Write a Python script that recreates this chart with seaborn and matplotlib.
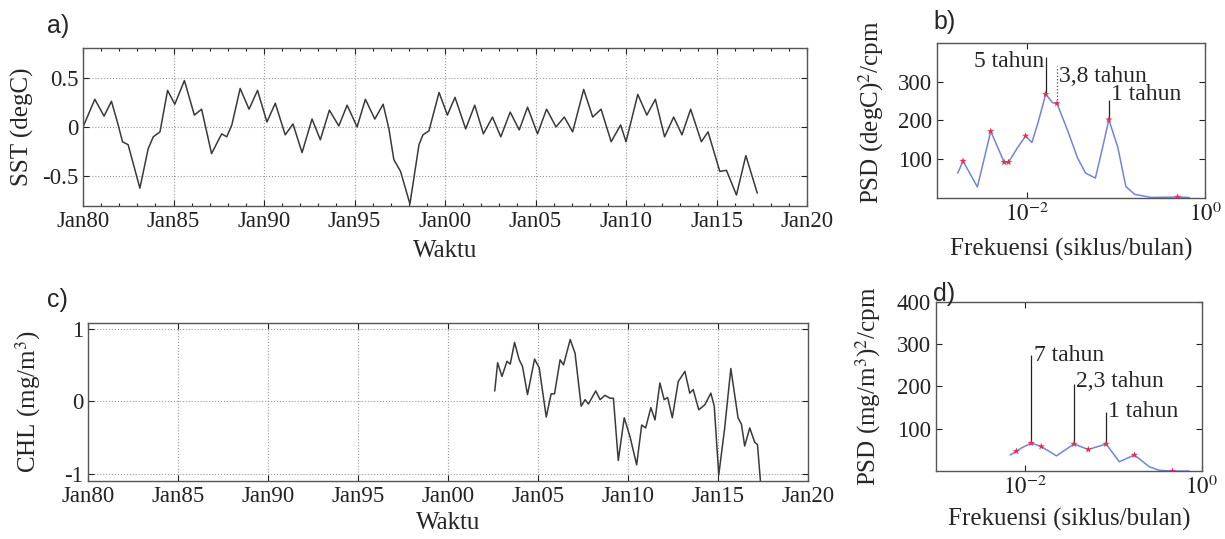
import numpy as np
import pandas as pd
import matplotlib
matplotlib.use("Agg")
import matplotlib.pyplot as plt
import seaborn as sns

# SST anomaly (panel a), decimal year vs degC, read at turning points
sst_year = [1980.0, 1980.65, 1981.16, 1981.57, 1981.94, 1982.18, 1982.49, 1983.14, 1983.6, 1983.88,
            1984.25, 1984.67, 1985.07, 1985.6, 1986.15, 1986.55, 1987.1, 1987.66, 1987.94, 1988.22,
            1988.68, 1989.17, 1989.64, 1990.16, 1990.62, 1991.17, 1991.6, 1992.1, 1992.65, 1993.11,
            1993.61, 1994.13, 1994.59, 1995.14, 1995.6, 1996.12, 1996.58, 1996.9, 1997.17, 1997.54,
            1998.06, 1998.56, 1998.78, 1999.11, 1999.67, 2000.13, 2000.55, 2001.14, 2001.64, 2002.12,
            2002.62, 2003.08, 2003.6, 2004.1, 2004.56, 2005.11, 2005.61, 2006.13, 2006.59, 2007.05,
            2007.66, 2008.16, 2008.62, 2009.18, 2009.7, 2010.0, 2010.65, 2011.15, 2011.62, 2012.13,
            2012.63, 2013.09, 2013.57, 2014.16, 2014.53, 2015.18, 2015.55, 2016.1, 2016.62, 2017.25]
sst = [0.0, 0.28, 0.11, 0.26, 0.02, -0.15, -0.18, -0.62, -0.22, -0.10,
       -0.05, 0.37, 0.23, 0.47, 0.12, 0.18, -0.27, -0.07, -0.10, 0.02,
       0.39, 0.18, 0.37, 0.05, 0.24, -0.08, 0.03, -0.26, 0.08, -0.13,
       0.17, 0.01, 0.22, 0.0, 0.28, 0.08, 0.23, -0.02, -0.33, -0.45,
       -0.78, -0.18, -0.08, -0.04, 0.35, 0.12, 0.30, -0.02, 0.22, -0.07,
       0.10, -0.10, 0.15, -0.03, 0.20, -0.07, 0.18, 0.0, 0.10, -0.05,
       0.38, 0.10, 0.18, -0.15, 0.02, -0.15, 0.33, 0.12, 0.28, -0.10,
       0.10, -0.08, 0.18, -0.15, -0.05, -0.45, -0.44, -0.69, -0.29, -0.67]

# CHL anomaly (panel c)
chl_year = [2002.59, 2002.75, 2002.99, 2003.27, 2003.45, 2003.69, 2003.95, 2004.13, 2004.41, 2004.8,
            2005.06, 2005.45, 2005.72, 2005.91, 2006.22, 2006.41, 2006.78, 2007.05, 2007.39, 2007.61,
            2007.79, 2008.2, 2008.44, 2008.71, 2008.99, 2009.18, 2009.45, 2009.78, 2010.1, 2010.47,
            2010.75, 2010.97, 2011.26, 2011.49, 2011.76, 2012.0, 2012.19, 2012.45, 2012.78, 2013.15,
            2013.42, 2013.61, 2013.92, 2014.26, 2014.59, 2014.78, 2015.03, 2015.36, 2015.7, 2016.1,
            2016.29, 2016.47, 2016.75, 2017.03, 2017.18, 2017.36]
chl = [0.14, 0.53, 0.34, 0.55, 0.51, 0.81, 0.57, 0.48, 0.09, 0.58,
       0.46, -0.22, 0.10, 0.10, 0.57, 0.50, 0.85, 0.66, -0.07, 0.02,
       -0.04, 0.14, 0.02, 0.08, 0.04, 0.04, -0.82, -0.23, -0.49, -0.88,
       -0.33, -0.37, -0.09, -0.26, 0.25, 0.02, 0.05, -0.23, 0.27, 0.41,
       0.11, 0.16, -0.12, -0.05, 0.11, -0.07, -1.02, -0.37, 0.45, -0.23,
       -0.32, -0.62, -0.37, -0.57, -0.60, -1.15]

# power spectra (panels b, d): frequency in cycles/month
sst_freq = [0.0017, 0.00195, 0.00282, 0.00398, 0.00562, 0.0063, 0.00794, 0.00977, 0.01148, 0.0135,
            0.0164, 0.0195, 0.0219, 0.0288, 0.0372, 0.0457, 0.0589, 0.0708, 0.0833, 0.105,
            0.129, 0.162, 0.245, 0.49, 0.66]
sst_psd = [64, 95, 28, 172, 92, 92, 130, 160, 143, 196,
           268, 246, 244, 174, 103, 64, 51, 130, 202, 130,
           29, 9, 1, 2, 1]
sst_peak_freq = [0.00195, 0.00398, 0.00562, 0.0063, 0.00977, 0.0164, 0.0219, 0.0833, 0.49]
sst_peak_psd = [95, 172, 92, 92, 160, 268, 244, 202, 2]

chl_freq = [0.0069, 0.0081, 0.0093, 0.0119, 0.0155, 0.0229, 0.0362, 0.0525, 0.0833, 0.1175,
            0.174, 0.257, 0.33, 0.468, 0.72]
chl_psd = [38, 47, 55, 66, 58, 36, 64, 51, 64, 22,
           38, 10, 2, 0, 0]
chl_peak_freq = [0.0081, 0.0119, 0.0155, 0.0362, 0.0525, 0.0833, 0.174, 0.468]
chl_peak_psd = [47, 66, 58, 64, 51, 64, 38, 0]

year_ticks = [1980, 1985, 1990, 1995, 2000, 2005, 2010, 2015, 2020]
year_labels = ["Jan80", "Jan85", "Jan90", "Jan95", "Jan00", "Jan05", "Jan10", "Jan15", "Jan20"]

sns.set_theme(style="white")
plt.rcParams["font.family"] = ["Liberation Serif", "DejaVu Serif"]
plt.rcParams["mathtext.fontset"] = "stix"
plt.rcParams["xtick.direction"] = "in"
plt.rcParams["ytick.direction"] = "in"

FS_TICK = 16.5
FS_LAB = 18
FS_NOTE = 17
LINE = "#3a3a3a"
SPEC = "#7383e0"

fig = plt.figure(figsize=(12.25, 5.39), dpi=100)
ax_a = fig.add_axes([0.0678, 0.618, 0.591, 0.293])
ax_b = fig.add_axes([0.765, 0.633, 0.219, 0.287])
ax_c = fig.add_axes([0.0718, 0.108, 0.588, 0.293])
ax_d = fig.add_axes([0.764, 0.126, 0.217, 0.314])


def style_box(ax):
    for s in ax.spines.values():
        s.set_color("#555555")
        s.set_linewidth(1.0)
    ax.tick_params(which="both", top=True, right=True, bottom=True, left=True,
                   labelsize=FS_TICK, colors="#222222", length=4, width=0.8)
    ax.tick_params(which="minor", length=2.5)


# panel a
df_a = pd.DataFrame({"year": sst_year, "sst": sst})
sns.lineplot(data=df_a, x="year", y="sst", ax=ax_a, color=LINE, linewidth=1.1)
ax_a.set_xlim(1980, 2020)
ax_a.set_ylim(-0.8, 0.8)
ax_a.set_xticks(year_ticks, year_labels)
ax_a.set_xticks(range(1980, 2021), minor=True)
ax_a.set_yticks([-0.5, 0, 0.5], ["-0.5", "0", "0.5"])
ax_a.grid(True, which="major", linestyle=":", color="#9a9a9a", linewidth=0.8)
ax_a.set_xlabel("Waktu", fontsize=FS_LAB)
ax_a.set_ylabel("SST (degC)", fontsize=FS_LAB)
ax_a.xaxis.set_label_coords(0.5, -0.215)
ax_a.yaxis.set_label_coords(-0.068, 0.5)
style_box(ax_a)

# panel c
df_c = pd.DataFrame({"year": chl_year, "chl": chl})
sns.lineplot(data=df_c, x="year", y="chl", ax=ax_c, color=LINE, linewidth=1.1)
ax_c.set_xlim(1980, 2020)
ax_c.set_ylim(-1.1, 1.08)
ax_c.set_xticks(year_ticks, year_labels)
ax_c.set_yticks([-1, 0, 1], ["-1", "0", "1"])
ax_c.grid(True, which="major", linestyle=":", color="#9a9a9a", linewidth=0.8)
ax_c.set_xlabel("Waktu", fontsize=FS_LAB)
ax_c.set_ylabel("CHL (mg/m$^3$)", fontsize=FS_LAB)
ax_c.xaxis.set_label_coords(0.5, -0.2)
ax_c.yaxis.set_label_coords(-0.062, 0.5)
style_box(ax_c)


def spectrum(ax, freq, psd, pf, pp, yticks):
    sns.lineplot(x=freq, y=psd, ax=ax, color=SPEC, linewidth=1.1)
    sns.scatterplot(x=pf, y=pp, ax=ax, color="#e8304a", marker="*", s=30,
                    edgecolor="none", zorder=3)
    ax.set_xscale("log")
    ax.set_xlim(1e-3, 1)
    ax.set_ylim(0, 400)
    ax.set_xticks([1e-2, 1], ["$10^{-2}$", "$10^{0}$"])
    ax.xaxis.set_minor_locator(matplotlib.ticker.NullLocator())
    ax.set_yticks(yticks, [str(t) for t in yticks])
    ax.set_xlabel("Frekuensi (siklus/bulan)", fontsize=FS_LAB)
    style_box(ax)


# panel b
spectrum(ax_b, sst_freq, sst_psd, sst_peak_freq, sst_peak_psd, [100, 200, 300])
ax_b.set_ylabel("PSD (degC)$^2$/cpm", fontsize=FS_LAB)
ax_b.xaxis.set_label_coords(0.5, -0.26)
ax_b.yaxis.set_label_coords(-0.19, 0.55)
ax_b.vlines(1 / 60, 268, 363, color="#222222", linewidth=0.9)
ax_b.vlines(0.0219, 244, 340, color="#444444", linewidth=0.9, linestyle=":")
ax_b.vlines(1 / 12, 202, 253, color="#222222", linewidth=0.9)
ax_b.text(0.0158, 353, "5 tahun", fontsize=FS_NOTE, ha="right", va="center")
ax_b.text(0.0233, 313, "3,8 tahun", fontsize=FS_NOTE, ha="left", va="center")
ax_b.text(0.088, 266, "1 tahun", fontsize=FS_NOTE, ha="left", va="center")

# panel d
spectrum(ax_d, chl_freq, chl_psd, chl_peak_freq, chl_peak_psd, [100, 200, 300, 400])
ax_d.set_ylabel("PSD (mg/m$^3$)$^2$/cpm", fontsize=FS_LAB)
ax_d.xaxis.set_label_coords(0.5, -0.22)
ax_d.yaxis.set_label_coords(-0.2, 0.5)
ax_d.vlines(1 / 84, 66, 274, color="#222222", linewidth=0.9)
ax_d.vlines(0.0362, 64, 207, color="#222222", linewidth=0.9)
ax_d.vlines(1 / 12, 64, 140, color="#222222", linewidth=0.9)
ax_d.text(0.0127, 272, "7 tahun", fontsize=FS_NOTE, ha="left", va="center")
ax_d.text(0.0385, 211, "2,3 tahun", fontsize=FS_NOTE, ha="left", va="center")
ax_d.text(0.088, 140, "1 tahun", fontsize=FS_NOTE, ha="left", va="center")

# panel letters
for label, x, y in [("a)", 0.038, 0.952), ("b)", 0.762, 0.96), ("c)", 0.038, 0.443), ("d)", 0.762, 0.455)]:
    fig.text(x, y, label, fontsize=18, family=["Liberation Sans", "DejaVu Sans"], va="center")

fig.savefig("out.png", dpi=100)
